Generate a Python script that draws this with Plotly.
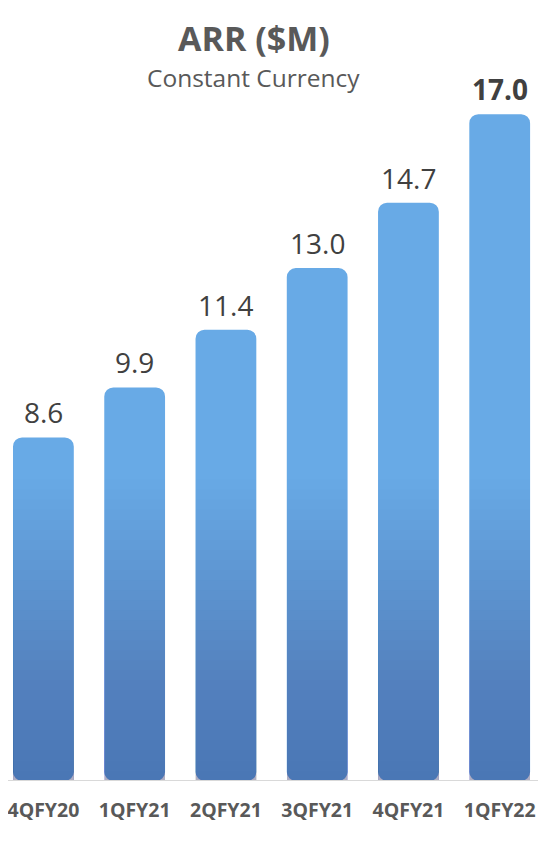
import plotly.graph_objects as go

categories = ["4QFY20", "1QFY21", "2QFY21", "3QFY21", "4QFY21", "1QFY22"]
values = [8.6, 9.9, 11.4, 13.0, 14.7, 17.0]
value_labels = ["8.6", "9.9", "11.4", "13.0", "14.7", "<b>17.0</b>"]

BASE = -0.33          # axis floor (baseline)
Y_TOP = 19.76
GRAD_TOP = 7.5        # where the darkening gradient begins
N_LAYERS = 30
TOTAL_ALPHA = 0.40
BAR_W = 0.666
PLOT_H = 773

fig = go.Figure()

fig.add_trace(go.Bar(
    x=categories, y=[v - BASE for v in values], base=BASE, width=BAR_W,
    marker=dict(color="#68aae6", cornerradius=9, line=dict(width=0)),
    hoverinfo="skip", showlegend=False,
))

a = 1 - (1 - TOTAL_ALPHA) ** (1.0 / N_LAYERS)
for k in range(1, N_LAYERS + 1):
    lvl = BASE + (GRAD_TOP - BASE) * k / N_LAYERS
    fig.add_trace(go.Bar(
        x=categories, y=[min(v - 0.3, lvl) - BASE for v in values], base=BASE,
        width=BAR_W,
        marker=dict(color=f"rgba(46,72,110,{a:.4f})", line=dict(width=0)),
        hoverinfo="skip", showlegend=False,
    ))

for c, v, t in zip(categories, values, value_labels):
    fig.add_annotation(
        x=c, y=v, text=t, showarrow=False, yanchor="bottom", yshift=4,
        font=dict(family="Open Sans", size=28, color="#404040"),
    )

fig.add_annotation(
    xref="paper", yref="paper", x=245 / 546, y=1 - 30 / PLOT_H,
    text="<b>ARR ($M)</b>", showarrow=False, yanchor="middle",
    font=dict(family="Open Sans", size=34, color="#595959"),
)
fig.add_annotation(
    xref="paper", yref="paper", x=244 / 546, y=1 - 70 / PLOT_H,
    text="Constant Currency", showarrow=False, yanchor="middle",
    font=dict(family="Open Sans", size=24.5, color="#595959"),
)

fig.add_shape(
    type="line", xref="paper", yref="y", x0=-0.05, x1=1.05, y0=BASE, y1=BASE,
    line=dict(color="#d9d9d9", width=2),
)

fig.update_layout(
    width=546, height=846,
    margin=dict(l=0, r=0, t=0, b=846 - PLOT_H),
    paper_bgcolor="white", plot_bgcolor="white",
    barmode="overlay",
    xaxis=dict(
        range=[-0.366, 5.595], showgrid=False, zeroline=False, showline=False,
        ticks="", ticklabelstandoff=15,
        tickfont=dict(family="Open Sans", size=19.5, color="#595959", weight="bold"),
    ),
    yaxis=dict(range=[BASE, Y_TOP], visible=False, showgrid=False, zeroline=False),
)

fig.write_html("out.html")
